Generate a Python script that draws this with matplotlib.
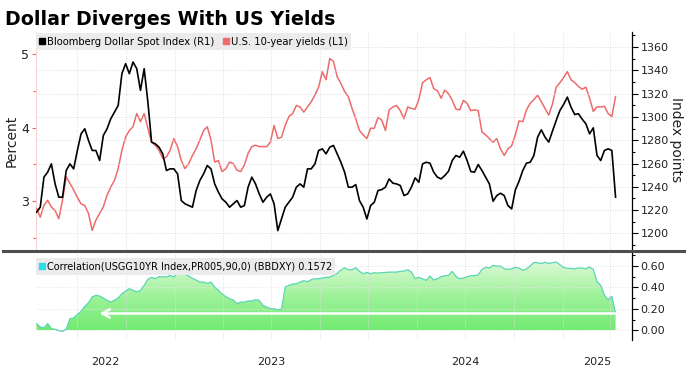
import numpy as np
import pandas as pd
import matplotlib
matplotlib.use("Agg")
import matplotlib.pyplot as plt
import matplotlib.dates as mdates
from matplotlib.lines import Line2D
from matplotlib.colors import LinearSegmentedColormap
from matplotlib.ticker import MultipleLocator, FixedLocator, FixedFormatter, FormatStrFormatter, NullFormatter

# ---------------- data (weekly) ----------------
dates = pd.date_range("2022-04-15", periods=157, freq="7D")

dollar = [1218.2,1222.5,1248.3,1252.6,1259.7,1242.5,1231.1,1231.1,1254.0,1259.7,
          1255.4,1271.2,1285.5,1289.8,1279.8,1271.2,1271.2,1262.6,1284.1,1289.8,
          1298.4,1304.1,1309.9,1337.1,1345.7,1337.1,1347.1,1341.4,1322.8,1341.4,
          1312.7,1278.4,1276.9,1274.0,1268.3,1254.0,1255.4,1255.4,1251.1,1228.2,
          1225.4,1223.9,1222.5,1236.8,1245.4,1251.1,1258.3,1255.4,1242.5,1235.4,
          1229.6,1226.8,1222.5,1225.4,1228.2,1222.5,1223.9,1239.7,1248.3,1242.5,
          1233.9,1226.8,1231.1,1233.9,1225.4,1202.4,1212.4,1222.5,1226.8,1231.1,
          1239.7,1242.5,1239.7,1255.4,1255.4,1259.7,1271.2,1272.6,1268.3,1274.0,
          1275.5,1268.3,1261.1,1252.6,1239.7,1239.7,1241.9,1228.2,1222.5,1212.4,
          1223.9,1226.8,1236.8,1237.6,1239.7,1246.8,1243.1,1242.5,1241.1,1232.5,
          1233.9,1239.7,1247.7,1243.9,1259.7,1261.1,1260.3,1252.6,1248.3,1246.8,
          1249.7,1253.4,1262.6,1266.9,1265.4,1270.6,1262.6,1253.1,1252.6,1259.1,
          1254.0,1248.3,1242.5,1227.6,1232.5,1234.5,1232.5,1223.9,1221.0,1237.3,
          1244.8,1254.0,1260.3,1261.1,1266.9,1282.6,1288.9,1282.6,1278.4,1287.8,
          1296.9,1305.5,1310.7,1317.0,1308.4,1302.1,1302.7,1298.1,1294.1,1285.5,
          1290.6,1266.9,1262.6,1271.2,1272.6,1271.2,1231.1]

yields = [2.90,2.78,2.94,3.01,2.92,2.87,2.76,3.01,3.33,3.24,
          3.15,3.05,2.96,2.94,2.83,2.60,2.74,2.83,2.92,3.08,
          3.19,3.28,3.44,3.69,3.87,3.96,4.01,4.19,4.08,4.19,
          3.99,3.80,3.76,3.69,3.58,3.60,3.69,3.85,3.74,3.55,
          3.44,3.51,3.62,3.71,3.83,3.96,4.01,3.83,3.53,3.55,
          3.40,3.44,3.53,3.51,3.42,3.40,3.49,3.65,3.74,3.76,
          3.74,3.74,3.74,3.80,4.03,3.85,3.87,4.03,4.15,4.19,
          4.30,4.28,4.21,4.28,4.35,4.44,4.55,4.76,4.65,4.94,
          4.90,4.69,4.60,4.49,4.42,4.26,4.12,3.96,3.90,3.85,
          3.99,3.99,4.14,4.10,3.96,4.24,4.28,4.30,4.23,4.12,
          4.28,4.26,4.25,4.38,4.61,4.65,4.68,4.53,4.50,4.40,
          4.51,4.46,4.37,4.25,4.24,4.37,4.33,4.23,4.24,4.23,
          3.94,3.90,3.85,3.80,3.85,3.71,3.62,3.71,3.75,3.90,
          4.09,4.08,4.24,4.33,4.38,4.44,4.35,4.26,4.17,4.32,
          4.55,4.61,4.68,4.76,4.65,4.61,4.56,4.52,4.55,4.40,
          4.22,4.28,4.28,4.29,4.19,4.15,4.42]

corr = [0.062,0.031,0.022,0.062,0.016,0.009,-0.003,-0.009,0.009,0.109,
        0.115,0.149,0.177,0.224,0.258,0.311,0.327,0.320,0.302,0.280,
        0.264,0.280,0.302,0.342,0.367,0.389,0.373,0.358,0.373,0.420,
        0.476,0.495,0.482,0.501,0.501,0.498,0.513,0.498,0.535,0.535,
        0.523,0.507,0.485,0.470,0.451,0.451,0.439,0.451,0.404,0.373,
        0.339,0.314,0.295,0.283,0.249,0.264,0.264,0.274,0.274,0.286,
        0.280,0.233,0.218,0.202,0.202,0.190,0.199,0.404,0.420,0.432,
        0.435,0.451,0.463,0.454,0.473,0.482,0.482,0.488,0.495,0.498,
        0.513,0.532,0.563,0.585,0.566,0.566,0.585,0.551,0.529,0.541,
        0.529,0.538,0.535,0.538,0.541,0.544,0.544,0.544,0.551,0.554,
        0.566,0.544,0.482,0.495,0.482,0.467,0.507,0.470,0.482,0.501,
        0.510,0.513,0.551,0.504,0.482,0.488,0.501,0.510,0.510,0.519,
        0.569,0.588,0.582,0.607,0.600,0.600,0.575,0.569,0.575,0.588,
        0.582,0.560,0.575,0.600,0.635,0.631,0.625,0.635,0.625,0.631,
        0.638,0.613,0.588,0.579,0.579,0.575,0.582,0.582,0.575,0.591,
        0.569,0.457,0.420,0.327,0.286,0.317,0.157]
corr_last = 0.1572

title = "Dollar Diverges With US Yields"
dollar_label = "Bloomberg Dollar Spot Index (R1)"
yield_label = "U.S. 10-year yields (L1)"
corr_label = "Correlation(USGG10YR Index,PR005,90,0) (BBDXY) 0.1572"
year_labels = ["2022", "2023", "2024", "2025"]
right_ticks = [1200, 1220, 1240, 1260, 1280, 1300, 1320, 1340, 1360]
left_ticks = [3, 4, 5]
corr_ticks = [0.0, 0.2, 0.4, 0.6]

# ---------------- styling ----------------
RED = "#ee6b6b"
GRID = "#dedede"
dollar = np.array(dollar)
yields = np.array(yields)
corr = np.array(corr)

W, H = 691, 372
fig = plt.figure(figsize=(W / 100, H / 100), dpi=100)
fig.patch.set_facecolor("white")

def box(l, t, r, b):
    return [l / W, 1 - b / H, (r - l) / W, (b - t) / H]

ax = fig.add_axes(box(36, 32, 632, 251))
ax2 = ax.twinx()
ax3 = fig.add_axes(box(36, 252, 632, 340))

x0 = pd.Timestamp("2022-04-14")
x1 = pd.Timestamp("2025-05-12")

# ---- top panel ----
ax.plot(dates, yields, color=RED, lw=1.1, zorder=3)
ax2.plot(dates, dollar, color="black", lw=1.2, zorder=3)

for a in (ax, ax2, ax3):
    a.set_xlim(x0, x1)
ax.set_ylim(2.32, 5.30)
ax2.set_ylim(1184.9, 1372.9)

quarters = mdates.MonthLocator(bymonth=[1, 4, 7, 10])
for a in (ax, ax3):
    a.xaxis.set_major_locator(quarters)
    a.xaxis.set_major_formatter(NullFormatter())
    a.tick_params(axis="x", which="both", length=0)
    a.grid(True, axis="x", which="major", color=GRID, lw=0.7, ls=(0, (1, 1.5)))
ax2.tick_params(axis="x", which="both", length=0)

ax.yaxis.set_major_locator(FixedLocator(left_ticks))
ax.yaxis.set_minor_locator(MultipleLocator(0.5))
ax.tick_params(axis="y", which="major", colors=RED, length=3, width=0.8, labelsize=9, pad=2)
ax.tick_params(axis="y", which="minor", colors=RED, length=2, width=0.8)
ax.yaxis.set_tick_params(labelcolor="#222222")

ax2.yaxis.set_major_locator(FixedLocator(right_ticks))
ax2.yaxis.set_minor_locator(MultipleLocator(10))
ax2.tick_params(axis="y", which="major", colors="black", length=4, width=0.8, labelsize=8, pad=2)
ax2.tick_params(axis="y", which="minor", colors="black", length=2, width=0.8)
ax2.yaxis.set_tick_params(labelcolor="#222222")
ax2.grid(True, axis="y", which="major", color=GRID, lw=0.7, ls=(0, (1, 1.5)))

for s in ("top", "bottom", "right"):
    ax.spines[s].set_visible(False)
ax.spines["left"].set_color("#f6d2d2")
for s in ("top", "bottom", "left"):
    ax2.spines[s].set_visible(False)
ax2.spines["right"].set_color("black")
ax2.spines["right"].set_linewidth(0.9)

handles = [Line2D([], [], marker="s", ls="none", color="black", markersize=5),
           Line2D([], [], marker="s", ls="none", color=RED, markersize=5)]
leg = ax2.legend(handles, [dollar_label, yield_label], loc="upper left",
                 bbox_to_anchor=(0.0, 0.995), ncol=2, fontsize=7.2, frameon=True,
                 facecolor="#ebebeb", edgecolor="none", fancybox=False, framealpha=1,
                 handlelength=0.6, handletextpad=0.15, columnspacing=0.9,
                 borderpad=0.35, borderaxespad=0)
leg.get_frame().set_linewidth(0)

# ---- bottom panel ----
cpos = np.clip(corr, 0, None)
poly = ax3.fill_between(dates, 0, cpos, facecolor="none", edgecolor="none")
grad = np.linspace(0, 1, 256).reshape(-1, 1)
cmap = LinearSegmentedColormap.from_list("g", ["#72ea72", "#9ff29a", "#dcf9d6"])
xn0, xn1 = mdates.date2num(x0), mdates.date2num(x1)
im = ax3.imshow(grad, extent=[xn0, xn1, 0, cpos.max()], origin="lower",
                aspect="auto", cmap=cmap, zorder=1, interpolation="bilinear")
im.set_clip_path(poly.get_paths()[0], transform=ax3.transData)
ax3.fill_between(dates, corr, 0, where=corr < 0, interpolate=True,
                 color="#f08a8a", zorder=2, lw=0)
ax3.plot(dates, corr, color="#5ad6b4", lw=0.9, zorder=3)
ax3.set_xlim(x0, x1)
ax3.set_ylim(-0.091, 0.732)

ax3.annotate("", xy=(dates[17], corr_last), xytext=(dates[-1], corr_last),
             arrowprops=dict(arrowstyle="->,head_length=0.55,head_width=0.3",
                             color="white", lw=1.8, shrinkA=0, shrinkB=0),
             zorder=4)

ax3.yaxis.tick_right()
ax3.yaxis.set_major_locator(FixedLocator(corr_ticks))
ax3.yaxis.set_minor_locator(MultipleLocator(0.1))
ax3.yaxis.set_major_formatter(FormatStrFormatter("%.2f"))
ax3.tick_params(axis="y", which="major", colors="black", length=4, width=0.8, labelsize=8, pad=2)
ax3.tick_params(axis="y", which="minor", colors="black", length=2, width=0.8)
ax3.yaxis.set_tick_params(labelcolor="#222222")
ax3.grid(True, axis="y", which="major", color="#e6e6e6", lw=0.7, ls=(0, (1, 1.5)))
for s in ("top", "bottom", "left"):
    ax3.spines[s].set_visible(False)
ax3.spines["right"].set_color("black")
ax3.spines["right"].set_linewidth(0.9)

# year labels centred on the visible part of each year
centers = []
for yl in year_labels:
    ys = max(pd.Timestamp(f"{yl}-01-01"), x0)
    ye = min(pd.Timestamp(f"{int(yl) + 1}-01-01"), x1)
    centers.append(mdates.date2num(ys + (ye - ys) / 2))
ax3.xaxis.set_minor_locator(FixedLocator(centers))
ax3.xaxis.set_minor_formatter(FixedFormatter(year_labels))
ax3.tick_params(axis="x", which="minor", length=0, pad=12, labelsize=8, labelcolor="#222222")

cleg = ax3.legend([Line2D([], [], marker="s", ls="none", color="#2fdde8", markersize=5)],
                  [corr_label], loc="upper left", bbox_to_anchor=(0.0, 1 - 6 / 88),
                  fontsize=7, frameon=True, facecolor="#ebebeb", edgecolor="none",
                  fancybox=False, framealpha=1, handlelength=0.6, handletextpad=0.15,
                  borderpad=0.35, borderaxespad=0)
cleg.get_frame().set_linewidth(0)

# separator
fig.add_artist(Line2D([3 / W, 684 / W], [1 - 251 / H] * 2, color="#4d4d4d", lw=2.2,
                      transform=fig.transFigure))

# texts
fig.text(5 / W, 1 - 25 / H, title, fontsize=13.7, fontweight="bold", family="DejaVu Sans",
         va="baseline", ha="left", color="black")
fig.text(12 / W, 1 - 141 / H, "Percent", rotation=90, va="center", ha="center",
         fontsize=10, color="#222222")
fig.text(676 / W, 1 - 140 / H, "Index points", rotation=270, va="center", ha="center",
         fontsize=10, color="#222222")

fig.savefig("out.png", dpi=100, facecolor="white")
